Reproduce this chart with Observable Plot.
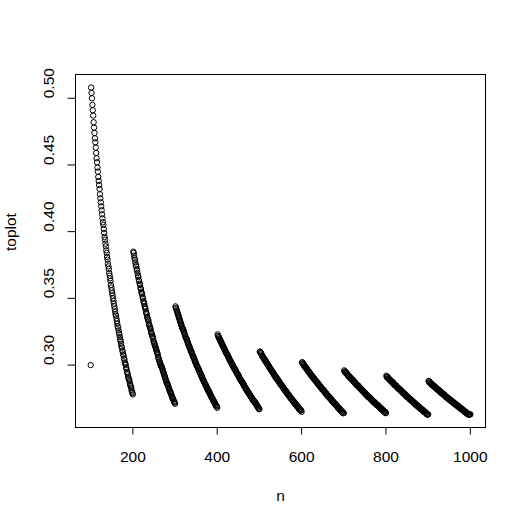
<!DOCTYPE html>
<html><head><meta charset="utf-8">
<script src="https://cdn.jsdelivr.net/npm/d3@7"></script>
<script src="https://cdn.jsdelivr.net/npm/@observablehq/plot@0.6"></script>
<style>html,body{margin:0;padding:0;background:#fff;} #chart{width:508px;height:513px;}</style>
</head><body><div id="chart"></div>
<script>
// x: n = 100..1000 ; y: toplot
const nFirst = 100, nLast = 1000;
const xLabel = "n", yLabel = "toplot";
const xTicks = [200, 400, 600, 800, 1000];
const yTicks = [0.30, 0.35, 0.40, 0.45, 0.50];

// n = 100
const seg0 = [0.300];
// n = 101..200
const seg1 = [
.508,.504,.500,.495,.491,.487,.482,.478,.474,.470,
.467,.463,.459,.455,.452,.448,.445,.441,.438,.435,
.432,.428,.425,.422,.419,.416,.413,.410,.407,.405,
.402,.399,.396,.394,.391,.389,.386,.384,.381,.379,
.376,.374,.372,.369,.367,.365,.363,.360,.358,.356,
.354,.352,.350,.348,.346,.344,.342,.340,.338,.337,
.335,.333,.331,.329,.328,.326,.324,.323,.321,.319,
.318,.316,.314,.313,.311,.310,.308,.307,.305,.304,
.302,.301,.300,.298,.297,.295,.294,.293,.291,.290,
.289,.288,.286,.285,.284,.283,.281,.280,.279,.278];
// n = 201..300
const seg2 = [
.385,.384,.382,.380,.379,.377,.375,.374,.372,.371,
.369,.367,.366,.364,.363,.361,.360,.358,.357,.355,
.354,.353,.351,.350,.348,.347,.346,.344,.343,.342,
.340,.339,.338,.336,.335,.334,.333,.331,.330,.329,
.328,.327,.325,.324,.323,.322,.321,.320,.318,.317,
.316,.315,.314,.313,.312,.311,.310,.309,.308,.306,
.305,.304,.303,.302,.301,.300,.299,.299,.298,.297,
.296,.295,.294,.293,.292,.291,.290,.289,.288,.287,
.286,.286,.285,.284,.283,.282,.281,.280,.280,.279,
.278,.277,.276,.275,.275,.274,.273,.272,.272,.271];
// n = 301..400
const seg3 = [
.344,.343,.342,.341,.340,.339,.338,.337,.336,.335,
.334,.333,.332,.331,.330,.329,.328,.327,.327,.326,
.325,.324,.323,.322,.321,.320,.320,.319,.318,.317,
.316,.315,.314,.314,.313,.312,.311,.310,.310,.309,
.308,.307,.306,.306,.305,.304,.303,.302,.302,.301,
.300,.299,.299,.298,.297,.297,.296,.295,.294,.294,
.293,.292,.292,.291,.290,.289,.289,.288,.287,.287,
.286,.285,.285,.284,.283,.283,.282,.281,.281,.280,
.280,.279,.278,.278,.277,.276,.276,.275,.275,.274,
.273,.273,.272,.272,.271,.270,.270,.269,.269,.268];
// n = 401..500
const seg4 = [
.323,.322,.321,.321,.320,.319,.319,.318,.317,.317,
.316,.315,.315,.314,.313,.313,.312,.311,.311,.310,
.309,.309,.308,.308,.307,.306,.306,.305,.304,.304,
.303,.303,.302,.301,.301,.300,.300,.299,.298,.298,
.297,.297,.296,.296,.295,.294,.294,.293,.293,.292,
.292,.291,.290,.290,.289,.289,.288,.288,.287,.287,
.286,.286,.285,.284,.284,.283,.283,.282,.282,.281,
.281,.280,.280,.279,.279,.278,.278,.277,.277,.276,
.276,.275,.275,.274,.274,.273,.273,.273,.272,.272,
.271,.271,.270,.270,.269,.269,.268,.268,.267,.267];
// n = 501..600
const seg5 = [
.310,.310,.309,.309,.308,.307,.307,.306,.306,.305,
.305,.304,.304,.303,.303,.302,.302,.301,.301,.300,
.300,.299,.299,.298,.298,.297,.297,.296,.296,.295,
.295,.294,.294,.293,.293,.292,.292,.291,.291,.290,
.290,.290,.289,.289,.288,.288,.287,.287,.286,.286,
.285,.285,.285,.284,.284,.283,.283,.282,.282,.281,
.281,.281,.280,.280,.279,.279,.278,.278,.278,.277,
.277,.276,.276,.275,.275,.275,.274,.274,.273,.273,
.273,.272,.272,.271,.271,.271,.270,.270,.269,.269,
.269,.268,.268,.267,.267,.267,.266,.266,.266,.265];
// n = 601..700
const seg6 = [
.302,.302,.301,.301,.300,.300,.299,.299,.298,.298,
.298,.297,.297,.296,.296,.295,.295,.295,.294,.294,
.293,.293,.292,.292,.292,.291,.291,.290,.290,.290,
.289,.289,.288,.288,.288,.287,.287,.286,.286,.286,
.285,.285,.284,.284,.284,.283,.283,.282,.282,.282,
.281,.281,.281,.280,.280,.279,.279,.279,.278,.278,
.277,.277,.277,.276,.276,.276,.275,.275,.275,.274,
.274,.273,.273,.273,.272,.272,.272,.271,.271,.271,
.270,.270,.270,.269,.269,.268,.268,.268,.267,.267,
.267,.266,.266,.266,.265,.265,.265,.264,.264,.264];
// n = 701..800
const seg7 = [
.296,.295,.295,.295,.294,.294,.294,.293,.293,.292,
.292,.292,.291,.291,.291,.290,.290,.290,.289,.289,
.289,.288,.288,.288,.287,.287,.287,.286,.286,.285,
.285,.285,.285,.284,.284,.284,.283,.283,.283,.282,
.282,.282,.281,.281,.281,.280,.280,.280,.279,.279,
.279,.278,.278,.278,.277,.277,.277,.276,.276,.276,
.276,.275,.275,.275,.274,.274,.274,.273,.273,.273,
.272,.272,.272,.272,.271,.271,.271,.270,.270,.270,
.270,.269,.269,.269,.268,.268,.268,.267,.267,.267,
.267,.266,.266,.266,.265,.265,.265,.265,.264,.264];
// n = 801..900
const seg8 = [
.292,.291,.291,.291,.290,.290,.290,.289,.289,.289,
.288,.288,.288,.287,.287,.287,.287,.286,.286,.285,
.285,.285,.285,.284,.284,.284,.283,.283,.283,.282,
.282,.282,.282,.281,.281,.281,.280,.280,.280,.279,
.279,.279,.279,.278,.278,.278,.277,.277,.277,.276,
.276,.276,.276,.275,.275,.275,.274,.274,.274,.274,
.273,.273,.273,.272,.272,.272,.272,.271,.271,.271,
.270,.270,.270,.270,.269,.269,.269,.269,.268,.268,
.268,.267,.267,.267,.267,.266,.266,.266,.266,.265,
.265,.265,.265,.264,.264,.264,.263,.263,.263,.263];
// n = 901..1000
const seg9 = [
.288,.288,.287,.287,.287,.286,.286,.286,.285,.285,
.285,.285,.284,.284,.284,.284,.283,.283,.283,.282,
.282,.282,.282,.281,.281,.281,.281,.280,.280,.280,
.279,.279,.279,.279,.278,.278,.278,.278,.277,.277,
.277,.276,.276,.276,.276,.275,.275,.275,.275,.274,
.274,.274,.274,.273,.273,.273,.273,.272,.272,.272,
.272,.271,.271,.271,.271,.270,.270,.270,.270,.269,
.269,.269,.269,.268,.268,.268,.268,.267,.267,.267,
.267,.266,.266,.266,.266,.265,.265,.265,.265,.264,
.264,.264,.264,.263,.263,.263,.263,.263,.263,.263];

const toplot = [].concat(seg0, seg1, seg2, seg3, seg4, seg5, seg6, seg7, seg8, seg9);
const n = d3.range(nFirst, nLast + 1);
const data = n.map((v, i) => ({n: v, toplot: toplot[i]}));

// R-style 4% axis extension
function pad([a, b]) { const e = (b - a) * 0.04; return [a - e, b + e]; }
const xDomain = pad(d3.extent(n));
const yDomain = pad(d3.extent(toplot));

const FS = 15.5;
const chart = Plot.plot({
  width: 508, height: 513,
  marginLeft: 75, marginRight: 23, marginTop: 74, marginBottom: 86,
  style: {fontFamily: "'Liberation Sans', Arial, sans-serif", fontSize: FS + "px", background: "#fff", color: "#000"},
  x: {domain: xDomain},
  y: {domain: yDomain},
  marks: [
    Plot.frame({stroke: "#000", strokeWidth: 1}),
    Plot.axisX({ticks: xTicks, tickSize: 7.5, fill: "none", label: null, anchor: "bottom", stroke: "#000"}),
    Plot.axisY({ticks: yTicks, tickSize: 7.5, fill: "none", label: null, anchor: "left", stroke: "#000"}),
    Plot.text(xTicks, {x: d => d, text: d => String(d), frameAnchor: "bottom", dy: 29.3, lineAnchor: "middle", fontSize: FS, fill: "#000"}),
    Plot.text(yTicks, {y: d => d, text: d => d.toFixed(2), frameAnchor: "left", dx: -26.7, rotate: -90, lineAnchor: "middle", fontSize: FS, fill: "#000"}),
    Plot.text([xLabel], {text: d => d, frameAnchor: "bottom", dy: 68.3, lineAnchor: "middle", fontSize: FS, fill: "#000"}),
    Plot.text([yLabel], {text: d => d, frameAnchor: "left", dx: -64, rotate: -90, lineAnchor: "middle", fontSize: FS, fill: "#000"}),
    Plot.dot(data, {x: "n", y: "toplot", r: 2.7, stroke: "#000", strokeWidth: 1, fill: "none"})
  ]
});
document.getElementById("chart").appendChild(chart);
</script>
</body></html>
